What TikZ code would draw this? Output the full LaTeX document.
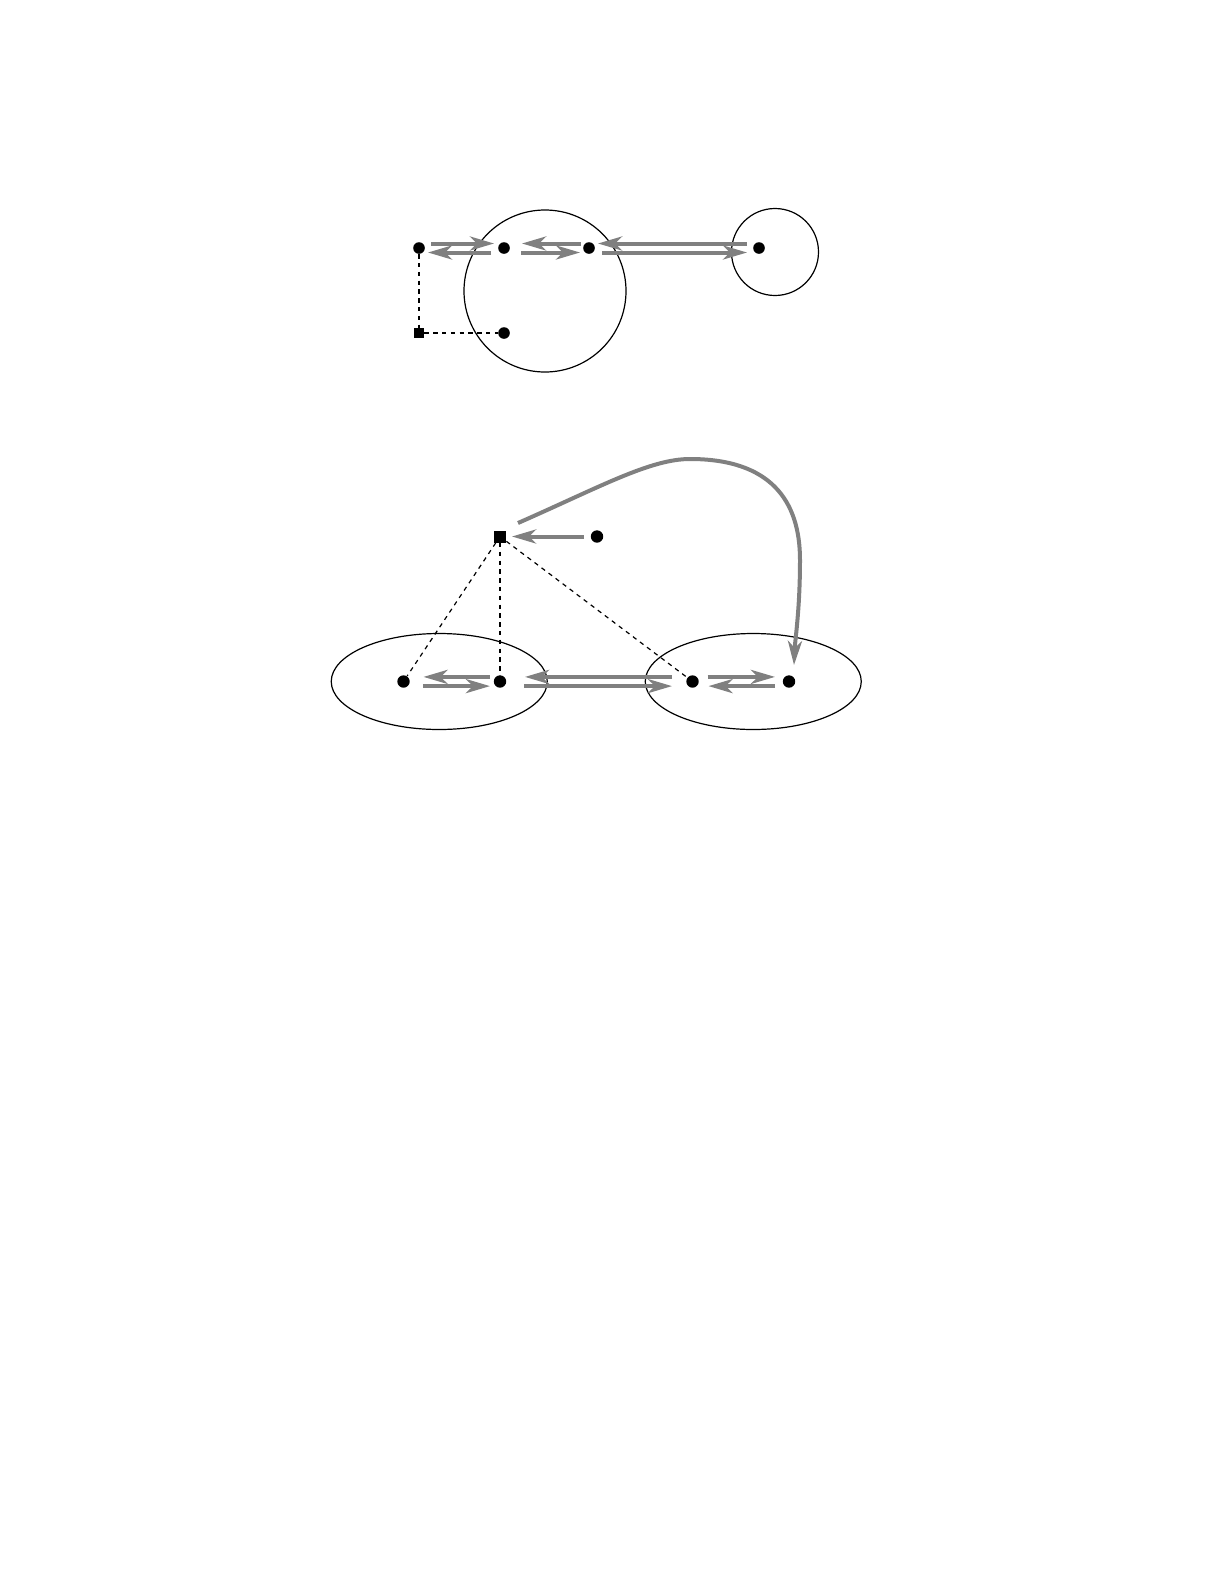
\documentclass[tikz,border=0pt]{standalone}
\usetikzlibrary{arrows.meta}
\definecolor{arrgray}{gray}{0.5}
\tikzset{
  dot/.style={circle,fill=black,inner sep=0pt,minimum size=#1},
  dot/.default=5.8bp,
  sqnode/.style={rectangle,fill=black,inner sep=0pt,minimum size=#1},
  sqnode/.default=5bp,
  garrow/.style={draw=arrgray,line width=2bp,-{Stealth[length=12bp,width=7bp,inset=3.5bp]}},
  dsh/.style={draw=black,line width=0.6bp,dash pattern=on 2.2bp off 2.2bp},
  ring/.style={draw=black,line width=0.6bp},
}
\begin{document}
\begin{tikzpicture}[x=0.5bp,y=-0.5bp]
\useasboundingbox[fill=white] (0,0) rectangle (1225,1585);

% ---------- top diagram ----------
\draw[ring] (545,291) circle [radius=40.5bp];
\draw[ring] (775,252) circle [radius=21.75bp];

\node[dot] (A) at (419,248) {};
\node[dot] (B) at (504,248) {};
\node[dot] (C) at (589,248) {};
\node[dot] (D) at (759,248) {};
\node[dot] (E) at (504,333) {};
\node[sqnode] (S) at (419,333) {};

\draw[dsh] (A) -- (S);
\draw[dsh] (S) -- (E);

\draw[garrow,shorten <=6bp,shorten >=5bp] ([yshift=2.25bp]A.center) -- ([yshift=2.25bp]B.center);
\draw[garrow,shorten <=6.5bp,shorten >=4.5bp] ([yshift=-2.25bp]B.center) -- ([yshift=-2.25bp]A.center);
\draw[garrow,shorten <=4bp,shorten >=9bp] ([yshift=2.25bp]C.center) -- ([yshift=2.25bp]B.center);
\draw[garrow,shorten <=8.5bp,shorten >=4.5bp] ([yshift=-2.25bp]B.center) -- ([yshift=-2.25bp]C.center);
\draw[garrow,shorten <=6bp,shorten >=4.5bp] ([yshift=2.25bp]D.center) -- ([yshift=2.25bp]C.center);
\draw[garrow,shorten <=6.5bp,shorten >=6bp] ([yshift=-2.25bp]C.center) -- ([yshift=-2.25bp]D.center);

% ---------- bottom diagram ----------
\draw[ring] (439.25,681.5) ellipse [x radius=54bp, y radius=24bp];
\draw[ring] (753.25,681.5) ellipse [x radius=54bp, y radius=24bp];

\node[sqnode=6bp] (S2) at (500,536.5) {};
\node[dot=6.2bp] (F) at (597,536.5) {};
\node[dot=6.2bp] (G) at (403.5,681.5) {};
\node[dot=6.2bp] (H) at (500,681.5) {};
\node[dot=6.2bp] (I) at (692.5,681.5) {};
\node[dot=6.2bp] (J) at (789,681.5) {};

\draw[dsh] (S2) -- (G);
\draw[dsh] (S2) -- (H);
\draw[dsh] (S2) -- (I);

\draw[garrow,shorten <=6.5bp,shorten >=6bp] (F.center) -- (S2.center);
\draw[garrow,shorten <=5bp,shorten >=10bp] ([yshift=2.3bp]H.center) -- ([yshift=2.3bp]G.center);
\draw[garrow,shorten <=9.7bp,shorten >=5bp] ([yshift=-2.3bp]G.center) -- ([yshift=-2.3bp]H.center);
\draw[garrow,shorten <=10.25bp,shorten >=12.5bp] ([yshift=2.3bp]I.center) -- ([yshift=2.3bp]H.center);
\draw[garrow,shorten <=12bp,shorten >=10.25bp] ([yshift=-2.3bp]H.center) -- ([yshift=-2.3bp]I.center);
\draw[garrow,shorten <=7.5bp,shorten >=7bp] ([yshift=2.3bp]I.center) -- ([yshift=2.3bp]J.center);
\draw[garrow,shorten <=7bp,shorten >=8bp] ([yshift=-2.3bp]J.center) -- ([yshift=-2.3bp]I.center);

\coordinate (cs) at (518,523);
\coordinate (ce) at (794,665);
\draw[garrow] (cs) .. controls (600,487) and (650,459) .. (690,459)
  .. controls (770,459) and (800,500) .. (800,560)
  .. controls (800,610) and (795,640) .. (ce);
\end{tikzpicture}
\end{document}
